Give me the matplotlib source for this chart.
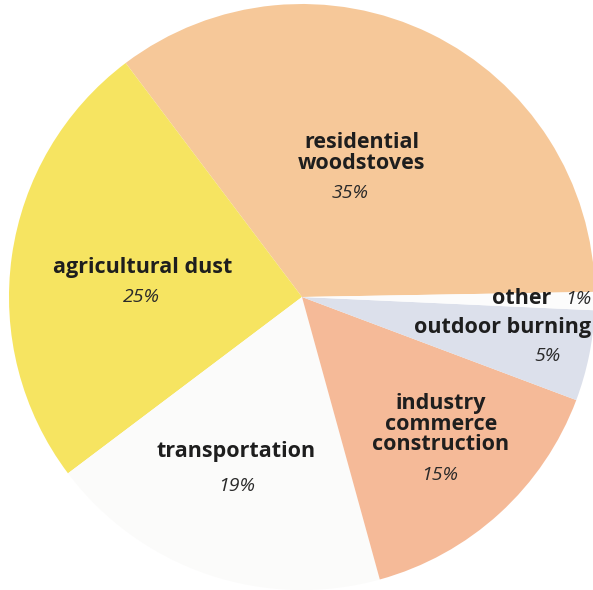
import matplotlib.pyplot as plt

# data
categories = ["residential woodstoves", "agricultural dust", "transportation",
              "industry commerce construction", "outdoor burning", "other"]
shares = [35, 25, 19, 15, 5, 1]
colors = ["#F6C899", "#F6E461", "#FBFBFA", "#F5BA98", "#DCE0EB", "#FCFCFC"]

W, H = 593, 590
CX, CY, R = 302, 297, 293   # pie centre/radius in pixels

fig = plt.figure(figsize=(W / 100, H / 100), dpi=100)
ax = fig.add_axes([0, 0, 1, 1])
ax.pie(shares, colors=colors, startangle=1, counterclock=True, radius=1,
       wedgeprops=dict(linewidth=0))
ax.set_xlim(-CX / R, (W - CX) / R)
ax.set_ylim(-(H - CY) / R, CY / R)
ax.set_aspect("equal")
ax.axis("off")

FONT = ["Open Sans", "DejaVu Sans"]
INK = "#1E1E1E"


def px(x, y):
    return (x / W, 1 - y / H)


def name(x, y, s, ha="center"):
    ax.text(*px(x, y), s, transform=ax.transAxes, ha=ha, va="center",
            fontsize=15.5, fontweight="bold", family=FONT, color=INK,
            linespacing=0.95)


def pct(x, y, v, ha="center"):
    ax.text(*px(x, y), f"{v}%", transform=ax.transAxes, ha=ha, va="center",
            fontsize=14, style="italic", family=FONT, color="#2A2A2A")


name(362, 153, "residential\nwoodstoves")
pct(350, 193, shares[0])
name(143, 268, "agricultural dust")
pct(141, 297, shares[1])
name(236, 452, "transportation")
pct(237, 486, shares[2])
name(441, 424, "industry\ncommerce\nconstruction")
pct(440, 475, shares[3])
name(591, 328, "outdoor burning", ha="right")
pct(561, 356, shares[4], ha="right")
name(551, 299, "other", ha="right")
pct(591, 299, shares[5], ha="right")

fig.savefig("out.png", dpi=100)
